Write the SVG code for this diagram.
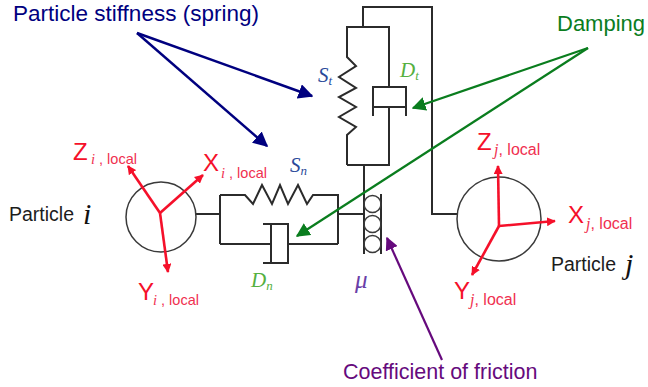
<svg xmlns="http://www.w3.org/2000/svg" width="648" height="387" viewBox="0 0 648 387">
<defs>
<marker id="aBlue" viewBox="0 0 10 10" refX="9" refY="5" markerWidth="15" markerHeight="15" markerUnits="userSpaceOnUse" orient="auto"><path d="M0 0L10 5L0 10z" fill="#00007f"/></marker>
<marker id="aGreen" viewBox="0 0 10 10" refX="9" refY="5" markerWidth="14" markerHeight="14" markerUnits="userSpaceOnUse" orient="auto"><path d="M0 0L10 5L0 10z" fill="#0a7d1e"/></marker>
<marker id="aPurple" viewBox="0 0 10 10" refX="9" refY="5" markerWidth="13" markerHeight="13" markerUnits="userSpaceOnUse" orient="auto"><path d="M0 0L10 5L0 10z" fill="#660a7d"/></marker>
<marker id="aRed" viewBox="0 0 10 10" refX="9" refY="5" markerWidth="9" markerHeight="9" markerUnits="userSpaceOnUse" orient="auto"><path d="M0 0L10 5L0 10z" fill="#f5102a"/></marker>
</defs>
<style>
text{font-family:"Liberation Sans",Arial,sans-serif}
.m{fill:none;stroke:#2b2b2b;stroke-width:2;stroke-linejoin:miter}
.c{fill:none;stroke:#3a3a3a;stroke-width:1.5}
.r{fill:none;stroke:#f5102a;stroke-width:2.6}
.bl{stroke:#00007f;stroke-width:2.4;fill:none;marker-end:url(#aBlue)}
.gr{stroke:#0a7d1e;stroke-width:2.2;fill:none;marker-end:url(#aGreen)}
.ax{fill:#f5102a;font-size:24px}
.sub{fill:#f03050;font-size:14.5px}
.subj{fill:#f03050;font-size:16px}
.it{font-family:"Liberation Serif",serif;font-style:italic}
.bk{fill:#1c1c1c;font-size:19.5px}
</style>
<g id="connectors">
<path class="m" d="M196 214H220M220 195V244M220 195H245L253 204L262 185L272 204L280 185L288 204L298 185L307 204L313 195H338V244M220 244H271M288 244H338M338 214H364"/>
<path class="m" d="M263 224H288V263H263M271 224V263"/>
<path class="m" d="M364 165V254M381 194V254M363 27V7H432V214H457"/>
<path class="m" d="M347 165V135L356 127L339 117L356 107L339 97L356 88L339 77L356 66L347 57V27H389V87M389 107V165H347"/>
<path class="m" d="M373 116V87H406V116M373 107H406"/>
<path class="bl" d="M137 33L312 96"/>
<path class="bl" d="M137 33L267 146"/>
<path class="gr" d="M588 48L413 108"/>
<path class="gr" d="M588 48L297 236"/>
<path d="M442 360L387 238" stroke="#660a7d" stroke-width="2.2" fill="none" marker-end="url(#aPurple)"/>
</g>
<g id="roller"><circle class="c" cx="372.5" cy="204" r="8.5"/><circle class="c" cx="372.5" cy="224" r="8.5"/><circle class="c" cx="372.5" cy="244" r="8.5"/></g>
<g id="particle-i">
<circle class="c" cx="161" cy="217" r="35"/>
<path class="r" d="M160 213L128 166" marker-end="url(#aRed)"/>
<path class="r" d="M160 213L203 175" marker-end="url(#aRed)"/>
<path class="r" d="M160 213L168 272" marker-end="url(#aRed)"/>
<text class="bk" x="9" y="221">Particle</text><text class="it" x="83" y="224" font-size="30" fill="#111">i</text>
<text class="ax" x="73" y="160">Z</text><text class="sub" x="91" y="164"><tspan class="it">i</tspan> , local</text>
<text class="ax" x="203" y="171">X</text><text class="sub" x="221" y="178"><tspan class="it">i</tspan> , local</text>
<text class="ax" x="138" y="300">Y</text><text class="sub" x="153" y="305"><tspan class="it">i</tspan> , local</text>
</g>
<g id="particle-j">
<circle class="c" cx="499" cy="219" r="42"/>
<path class="r" d="M499 226L498 166" marker-end="url(#aRed)"/>
<path class="r" d="M499 226L555 221" marker-end="url(#aRed)"/>
<path class="r" d="M499 226L472 275" marker-end="url(#aRed)"/>
<text class="bk" x="551" y="271">Particle</text><text class="it" x="625" y="274" font-size="30" fill="#111">j</text>
<text class="ax" x="477" y="150">Z</text><text class="subj" x="494" y="155"><tspan class="it">j</tspan>, local</text>
<text class="ax" x="568" y="223">X</text><text class="subj" x="586" y="229"><tspan class="it">j</tspan>, local</text>
<text class="ax" x="454" y="299">Y</text><text class="subj" x="470" y="305"><tspan class="it">j</tspan>, local</text>
</g>
<g id="labels">
<text x="13" y="21" font-size="22.5" fill="#00007f">Particle stiffness (spring)</text>
<text x="557" y="31" font-size="22" fill="#0a7d1e">Damping</text>
<text x="343" y="379" font-size="21.5" fill="#660a7d">Coefficient of friction</text>
<text class="it" x="290" y="172" font-size="21" fill="#2a4a9a">S<tspan font-size="13" dy="3">n</tspan></text>
<text class="it" x="318" y="82" font-size="21" fill="#2a4a9a">S<tspan font-size="13" dy="3">t</tspan></text>
<text class="it" x="400" y="77" font-size="21" fill="#55b040">D<tspan font-size="13" dy="3">t</tspan></text>
<text class="it" x="251" y="287" font-size="21" fill="#55b040">D<tspan font-size="13" dy="3">n</tspan></text>
<text class="it" x="355" y="288" font-size="25" fill="#6a3fa8">μ</text>
</g>
</svg>
